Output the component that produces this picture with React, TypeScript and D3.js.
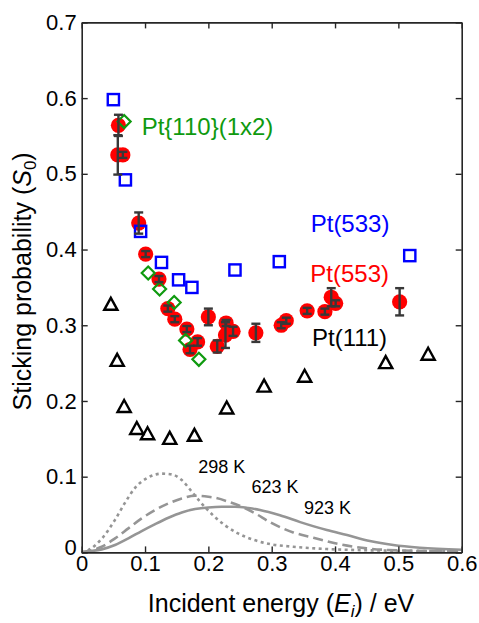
import { useEffect, useRef } from 'react';
import * as d3 from 'd3';

// Pt(553): red circles with error bars
const e553 = [0.058, 0.057, 0.065, 0.090, 0.101, 0.122, 0.136, 0.147, 0.166, 0.171, 0.183, 0.200, 0.214, 0.227, 0.228, 0.239, 0.275, 0.315, 0.323, 0.356, 0.384, 0.394, 0.401, 0.502];
const s553 = [0.564, 0.525, 0.525, 0.435, 0.394, 0.361, 0.322, 0.308, 0.295, 0.268, 0.278, 0.311, 0.272, 0.287, 0.303, 0.292, 0.290, 0.300, 0.306, 0.319, 0.318, 0.337, 0.329, 0.331];
const err553 = [0.014, 0.026, 0.004, 0.014, 0.004, 0.004, 0.004, 0.004, 0.004, 0.005, 0.005, 0.011, 0.008, 0.017, 0.004, 0.006, 0.012, 0.004, 0.004, 0.004, 0.004, 0.012, 0.004, 0.018];

// Pt(533): blue squares
const e533 = [0.050, 0.069, 0.093, 0.126, 0.153, 0.174, 0.242, 0.312, 0.518];
const s533 = [0.598, 0.492, 0.424, 0.383, 0.360, 0.350, 0.373, 0.384, 0.392];

// Pt{110}(1x2): green diamonds
const e110 = [0.067, 0.105, 0.123, 0.146, 0.164, 0.185];
const s110 = [0.569, 0.369, 0.348, 0.330, 0.280, 0.255];

// Pt(111): black triangles
const e111 = [0.046, 0.056, 0.067, 0.087, 0.104, 0.139, 0.178, 0.229, 0.288, 0.352, 0.480, 0.547];
const s111 = [0.327, 0.253, 0.192, 0.163, 0.156, 0.150, 0.154, 0.190, 0.219, 0.232, 0.250, 0.261];

// beam energy distributions
const e298 = [0, 0.0105, 0.0316, 0.0526, 0.068, 0.084, 0.105, 0.126, 0.142, 0.158, 0.174, 0.189, 0.21, 0.226, 0.247, 0.274, 0.30, 0.334, 0.387, 0.44, 0.52, 0.6];
const s298 = [0, 0.003, 0.018, 0.043, 0.065, 0.085, 0.099, 0.104, 0.103, 0.0955, 0.080, 0.065, 0.047, 0.036, 0.025, 0.016, 0.0106, 0.0075, 0.0044, 0.003, 0.002, 0.0013];
const e623 = [0, 0.0105, 0.0316, 0.0526, 0.0737, 0.0947, 0.116, 0.137, 0.158, 0.179, 0.2, 0.21, 0.232, 0.253, 0.274, 0.297, 0.334, 0.366, 0.408, 0.45, 0.502, 0.6];
const s623 = [0, 0.0018, 0.0075, 0.0185, 0.0317, 0.0449, 0.056, 0.0647, 0.0713, 0.0749, 0.0735, 0.0722, 0.0669, 0.0603, 0.0515, 0.040, 0.0264, 0.0194, 0.0106, 0.0053, 0.0026, 0.0013];
const e923 = [0, 0.0105, 0.0316, 0.0526, 0.0737, 0.0947, 0.116, 0.137, 0.158, 0.179, 0.2, 0.221, 0.242, 0.263, 0.2815, 0.313, 0.345, 0.387, 0.419, 0.455, 0.492, 0.534, 0.6];
const s923 = [0, 0.0013, 0.004, 0.0097, 0.0185, 0.0282, 0.0374, 0.0458, 0.0528, 0.0572, 0.0594, 0.0603, 0.0603, 0.0586, 0.056, 0.049, 0.040, 0.0295, 0.0229, 0.015, 0.0097, 0.0062, 0.0035];

const xTicks = [0, 0.1, 0.2, 0.3, 0.4, 0.5, 0.6];
const xTickLabels = ['0', '0.1', '0.2', '0.3', '0.4', '0.5', '0.6'];
const yTicks = [0, 0.1, 0.2, 0.3, 0.4, 0.5, 0.6, 0.7];
const yTickLabels = ['0', '0.1', '0.2', '0.3', '0.4', '0.5', '0.6', '0.7'];

const seriesNames = ['Pt(533)', 'Pt(553)', 'Pt(111)', 'Pt{110}(1x2)'];
const tempNames = ['298 K', '623 K', '923 K'];

const FONT = '"Liberation Sans", Arial, sans-serif';

export default function App() {
  const ref = useRef<SVGSVGElement>(null);

  useEffect(() => {
    const svg = d3.select(ref.current);
    svg.selectAll('*').remove();

    const width = 479;
    const height = 623;
    svg.attr('width', width).attr('height', height);

    const x = d3.scaleLinear().domain([0, 0.6]).range([81.7, 461.7]);
    const y = d3.scaleLinear().domain([0, 0.7]).range([552.4, 22.4]);

    const g = svg.append('g').style('font-family', FONT);
    const axisColor = '#262626';

    // distribution curves
    const line = d3.line<[number, number]>()
      .x((d) => x(d[0]))
      .y((d) => y(d[1]))
      .curve(d3.curveMonotoneX);
    const curves: [number[], number[], string][] = [
      [e298, s298, '3,3.5'],
      [e623, s623, '10,5'],
      [e923, s923, ''],
    ];
    curves.forEach(([es, ss, dash]) => {
      g.append('path')
        .datum(es.map((e, i) => [e, ss[i]] as [number, number]))
        .attr('fill', 'none')
        .attr('stroke', '#959595')
        .attr('stroke-width', 2.6)
        .attr('stroke-dasharray', dash || null)
        .attr('d', line);
    });

    // Pt(553) circles
    g.append('g').selectAll('circle')
      .data(e553)
      .join('circle')
      .attr('cx', (d) => x(d))
      .attr('cy', (_, i) => y(s553[i]))
      .attr('r', 7.6)
      .attr('fill', '#ff0000');

    // Pt{110}(1x2) diamonds
    g.append('g').selectAll('path')
      .data(e110)
      .join('path')
      .attr('transform', (d, i) => `translate(${x(d)},${y(s110[i])})`)
      .attr('d', 'M0,-6.5L6.5,0L0,6.5L-6.5,0Z')
      .attr('fill', 'none')
      .attr('stroke', '#0f9a0f')
      .attr('stroke-width', 2.2);

    // Pt(533) squares
    g.append('g').selectAll('rect')
      .data(e533)
      .join('rect')
      .attr('x', (d) => x(d) - 5.6)
      .attr('y', (_, i) => y(s533[i]) - 5.6)
      .attr('width', 11.2)
      .attr('height', 11.2)
      .attr('fill', 'none')
      .attr('stroke', '#0000ff')
      .attr('stroke-width', 2.4);

    // error bars
    const eb = g.append('g').attr('stroke', '#383838').attr('stroke-width', 2.4);
    e553.forEach((e, i) => {
      const cx = x(e);
      const y1 = y(s553[i] - err553[i]);
      const y2 = y(s553[i] + err553[i]);
      eb.append('line').attr('x1', cx).attr('x2', cx).attr('y1', y1).attr('y2', y2);
      eb.append('line').attr('x1', cx - 4.5).attr('x2', cx + 4.5).attr('y1', y1).attr('y2', y1);
      eb.append('line').attr('x1', cx - 4.5).attr('x2', cx + 4.5).attr('y1', y2).attr('y2', y2);
    });

    // Pt(111) triangles
    g.append('g').selectAll('path')
      .data(e111)
      .join('path')
      .attr('transform', (d, i) => `translate(${x(d)},${y(s111[i])})`)
      .attr('d', 'M0,-7L6.6,5L-6.6,5Z')
      .attr('fill', 'none')
      .attr('stroke', '#000')
      .attr('stroke-width', 2.4)
      .attr('stroke-linejoin', 'miter');

    // axes
    const styleAxis = (sel: d3.Selection<SVGGElement, unknown, null, undefined>) => {
      sel.select('.domain').attr('stroke', axisColor).attr('stroke-width', 1.6);
      sel.selectAll('.tick line').attr('stroke', axisColor).attr('stroke-width', 1.4);
      sel.selectAll('.tick text')
        .attr('fill', '#000')
        .style('font-size', '22px')
        .style('font-family', FONT);
    };

    const bottom = g.append('g')
      .attr('transform', `translate(0,${y(0)})`)
      .call(d3.axisBottom(x).tickValues(xTicks)
        .tickFormat((_, i) => xTickLabels[i])
        .tickSizeInner(-6).tickSizeOuter(0).tickPadding(3));
    styleAxis(bottom as any);

    const left = g.append('g')
      .attr('transform', `translate(${x(0)},0)`)
      .call(d3.axisLeft(y).tickValues(yTicks)
        .tickFormat((_, i) => yTickLabels[i])
        .tickSizeInner(-6).tickSizeOuter(0).tickPadding(5));
    styleAxis(left as any);
    left.selectAll<SVGTextElement, number>('.tick text')
      .filter((d) => d === 0)
      .attr('dy', '0.1em');

    const top = g.append('g')
      .attr('transform', `translate(0,${y(0.7)})`)
      .call(d3.axisTop(x).tickValues(xTicks).tickFormat(() => '')
        .tickSizeInner(-6).tickSizeOuter(0));
    styleAxis(top as any);

    const right = g.append('g')
      .attr('transform', `translate(${x(0.6)},0)`)
      .call(d3.axisRight(y).tickValues(yTicks).tickFormat(() => '')
        .tickSizeInner(-6).tickSizeOuter(0));
    styleAxis(right as any);

    // series labels
    const labels: [string, number, number, string][] = [
      [seriesNames[0], 0.3616, 0.423, '#0000ff'],
      [seriesNames[1], 0.361, 0.357, '#ff0000'],
      [seriesNames[2], 0.3636, 0.2727, '#000000'],
      [seriesNames[3], 0.0947, 0.5514, '#0f9a0f'],
    ];
    labels.forEach(([t, e, s, c]) => {
      g.append('text')
        .attr('x', x(e))
        .attr('y', y(s))
        .attr('fill', c)
        .style('font-size', '24px')
        .text(t);
    });

    const tempPos: [number, number][] = [
      [0.184, 0.1053],
      [0.268, 0.078],
      [0.351, 0.0503],
    ];
    tempNames.forEach((t, i) => {
      g.append('text')
        .attr('x', x(tempPos[i][0]))
        .attr('y', y(tempPos[i][1]))
        .attr('fill', '#000')
        .style('font-size', '18px')
        .text(t);
    });

    // axis titles
    const xt = g.append('text')
      .attr('x', 281)
      .attr('y', 612)
      .attr('text-anchor', 'middle')
      .attr('fill', '#000')
      .style('font-size', '25px');
    xt.append('tspan').text('Incident energy (');
    xt.append('tspan').style('font-style', 'italic').text('E');
    xt.append('tspan').style('font-style', 'italic').style('font-size', '17px').attr('dy', 5).text('i');
    xt.append('tspan').attr('dy', -5).text(') / eV');

    const yt = g.append('text')
      .attr('transform', `translate(31,${(y(0) + y(0.7)) / 2 - 6}) rotate(-90)`)
      .attr('text-anchor', 'middle')
      .attr('fill', '#000')
      .style('font-size', '25px');
    yt.append('tspan').text('Sticking probability (');
    yt.append('tspan').style('font-style', 'italic').text('S');
    yt.append('tspan').style('font-size', '17px').attr('dy', 5).text('0');
    yt.append('tspan').attr('dy', -5).text(')');
  }, []);

  return <svg ref={ref} style={{ position: 'absolute', left: 0, top: 0, background: '#fff' }}></svg>;
}
